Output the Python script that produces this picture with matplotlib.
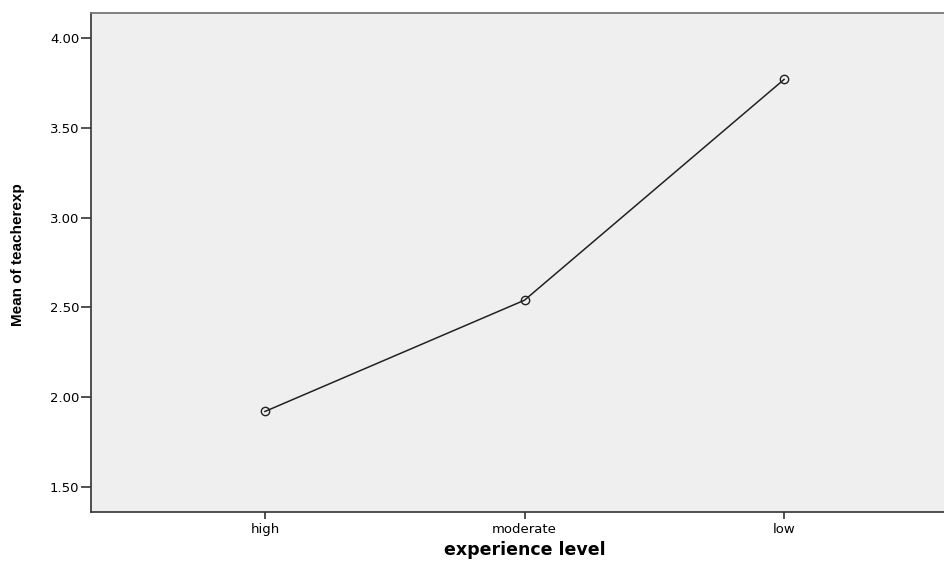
import matplotlib
matplotlib.use("Agg")
import matplotlib.pyplot as plt

# dados
levels = ["high", "moderate", "low"]
means = [1.92, 2.54, 3.77]
yticks = [1.50, 2.00, 2.50, 3.00, 3.50, 4.00]

plt.rcParams['font.family'] = ['DejaVu Sans']

fig = plt.figure(figsize=(9.44, 5.63), dpi=100)
# o eixo passa da borda direita, como na imagem original
ax = fig.add_axes([91/944, 1 - 512/563, 867/944, 499/563])
ax.set_facecolor("#efefef")

x = list(range(len(levels)))
ax.plot(x, means, color="#222222", lw=1.1, marker="o", ms=6,
        mfc="none", mec="#222222", mew=1)

ax.set_xlim(-0.67, 2.67)
ax.set_ylim(1.36, 4.14)
ax.set_xticks(x)
ax.set_xticklabels(levels, fontsize=9.5)
ax.set_yticks(yticks)
ax.set_yticklabels(["%.2f" % v for v in yticks], fontsize=9.5)
ax.tick_params(axis="y", length=7.5, width=1.2, color="#333333", pad=1)
ax.tick_params(axis="x", length=5, width=1.2, color="#333333", pad=3)

for s in ["left", "bottom"]:
    ax.spines[s].set_color("#333333")
    ax.spines[s].set_linewidth(1.2)
ax.spines["top"].set_color("#777777")
ax.spines["top"].set_linewidth(1.3)
ax.spines["right"].set_visible(False)

fig.text(18/944, 1 - 255/563, "Mean of teacherexp", rotation=90,
         ha="center", va="center", fontsize=11, fontweight="bold",
         family=["Liberation Sans Narrow", "Liberation Sans"])
fig.text(525/944, 1 - 550/563, "experience level", ha="center", va="center",
         fontsize=12.5, fontweight="bold", family="DejaVu Sans")

fig.savefig("out.png", dpi=100)
